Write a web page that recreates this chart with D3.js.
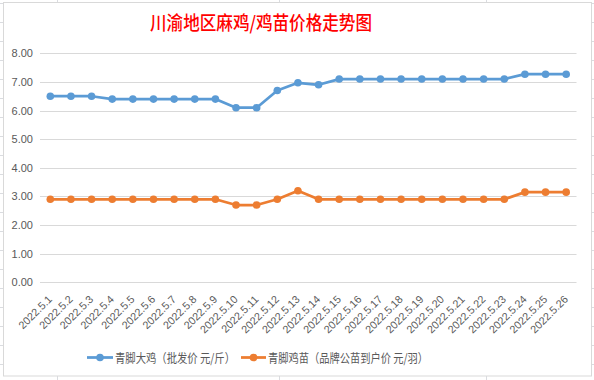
<!DOCTYPE html>
<html><head><meta charset="utf-8">
<script src="https://cdn.jsdelivr.net/npm/d3@7"></script>
<style>body{margin:0;background:#fff}svg{display:block}</style>
</head><body>
<script>
const categories = ["2022.5.1","2022.5.2","2022.5.3","2022.5.4","2022.5.5","2022.5.6","2022.5.7","2022.5.8","2022.5.9","2022.5.10","2022.5.11","2022.5.12","2022.5.13","2022.5.14","2022.5.15","2022.5.16","2022.5.17","2022.5.18","2022.5.19","2022.5.20","2022.5.21","2022.5.22","2022.5.23","2022.5.24","2022.5.25","2022.5.26"];
const bigChicken = [6.5,6.5,6.5,6.4,6.4,6.4,6.4,6.4,6.4,6.1,6.1,6.7,6.97,6.9,7.1,7.1,7.1,7.1,7.1,7.1,7.1,7.1,7.1,7.27,7.27,7.27];
const chick = [2.9,2.9,2.9,2.9,2.9,2.9,2.9,2.9,2.9,2.7,2.7,2.9,3.2,2.9,2.9,2.9,2.9,2.9,2.9,2.9,2.9,2.9,2.9,3.15,3.15,3.15];
const yTicks = [0,1,2,3,4,5,6,7,8];
const seriesNames = ["青脚大鸡（批发价 元/斤）","青脚鸡苗（品牌公苗到户价 元/羽）"];
const title = "川渝地区麻鸡/鸡苗价格走势图";

const W = 594, H = 380;
const svg = d3.select("body").append("svg").attr("width", W).attr("height", H);

// spreadsheet background grid
const bg = svg.append("g");
for (let y = 3; y < H; y += 19) bg.append("line").attr("x1",0).attr("x2",W).attr("y1",y+0.5).attr("y2",y+0.5).attr("stroke","#dadce0");
[57,279,486].forEach(x => bg.append("line").attr("x1",x+0.5).attr("x2",x+0.5).attr("y1",0).attr("y2",H).attr("stroke","#dadce0"));

// chart frame
svg.append("rect").attr("x",3.5).attr("y",2.5).attr("width",588).attr("height",373.5)
  .attr("fill","#fff").attr("stroke","#d9d9d9");

svg.append("text").attr("x",261).attr("y",30).attr("text-anchor","middle")
  .attr("font-family","'Noto Sans CJK SC'").attr("font-size",19).attr("font-weight","500")
  .attr("fill","#ff0000").attr("textLength",222).attr("lengthAdjust","spacingAndGlyphs").text(title);

const x = d3.scaleBand().domain(categories).range([40,576.5]);
const y = d3.scaleLinear().domain([0,8]).range([282.3,53.3]);
const cx = d => x(d) + x.bandwidth()/2;

// gridlines
svg.append("g").selectAll("line").data(yTicks).join("line")
  .attr("x1",40).attr("x2",576.5).attr("y1",d=>Math.round(y(d))+0.5).attr("y2",d=>Math.round(y(d))+0.5)
  .attr("stroke","#d9d9d9");

const yAxis = d3.axisLeft(y).tickValues(yTicks).tickFormat(d3.format(".2f")).tickSize(0).tickPadding(0);
const ya = svg.append("g").attr("transform","translate(33,0)").call(yAxis);
ya.select(".domain").remove();
ya.selectAll("text").attr("font-family","'Liberation Sans'").attr("font-size",11).attr("fill","#595959");

const xAxis = d3.axisBottom(x).tickSize(0);
const xa = svg.append("g").call(xAxis);
xa.select(".domain").remove();
xa.selectAll(".tick text")
  .attr("transform", d => `translate(${x.bandwidth()/2+2.5},300) rotate(-45)`)
  .attr("x",0).attr("y",0).attr("dy",0).attr("text-anchor","end")
  .attr("font-family","'Liberation Sans'").attr("font-size",10.8).attr("fill","#595959");
xa.selectAll(".tick").attr("transform", d => `translate(${x(d)},0)`);

const series = [{vals:bigChicken,color:"#5b9bd5"},{vals:chick,color:"#ed7d31"}];
const line = d3.line().x((d,i)=>cx(categories[i])).y(d=>y(d));
series.forEach(s => {
  svg.append("path").datum(s.vals).attr("d",line).attr("fill","none")
    .attr("stroke",s.color).attr("stroke-width",2.75).attr("stroke-linejoin","round");
  svg.append("g").selectAll("circle").data(s.vals).join("circle")
    .attr("cx",(d,i)=>cx(categories[i])).attr("cy",d=>y(d)).attr("r",3.8).attr("fill",s.color);
});

// legend
const leg = [{x1:87,x2:113,tx:115,len:120},{x1:241,x2:266,tx:268,len:160}];
leg.forEach((l,i) => {
  const g = svg.append("g");
  g.append("line").attr("x1",l.x1).attr("x2",l.x2).attr("y1",357.5).attr("y2",357.5)
    .attr("stroke",series[i].color).attr("stroke-width",2.75);
  g.append("circle").attr("cx",(l.x1+l.x2)/2).attr("cy",357.5).attr("r",3.8).attr("fill",series[i].color);
  g.append("text").attr("x",l.tx).attr("y",362.5).attr("font-family","'Noto Sans CJK SC'")
    .attr("font-size",12.5).attr("fill","#595959").attr("textLength",l.len).attr("lengthAdjust","spacingAndGlyphs")
    .text(seriesNames[i]);
});
</script>
</body></html>
